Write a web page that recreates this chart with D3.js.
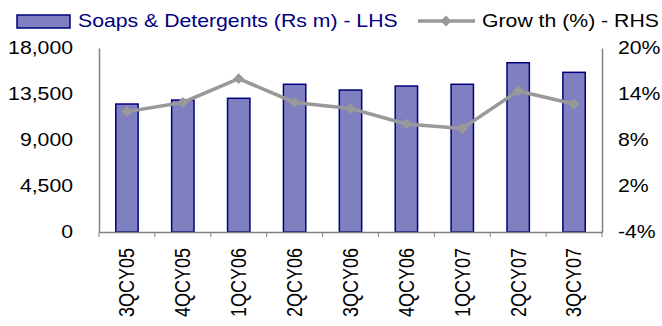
<!DOCTYPE html>
<html><head><meta charset="utf-8">
<script src="https://cdn.jsdelivr.net/npm/d3@7"></script>
<style>body{margin:0;background:#fff}svg{display:block}text{font-family:"Liberation Sans",Arial,sans-serif}</style>
</head><body><div id="chart"></div>
<script>
const categories = ["3QCY05","4QCY05","1QCY06","2QCY06","3QCY06","4QCY06","1QCY07","2QCY07","3QCY07"];
const sales = [12520, 12910, 13080, 14450, 13890, 14280, 14450, 16560, 15620];
const growth = [11.7, 12.9, 16.0, 12.9, 12.1, 10.1, 9.5, 14.4, 12.7];
const leftTicks = [0, 4500, 9000, 13500, 18000];
const rightTicks = [-4, 2, 8, 14, 20];
const barLabel = "Soaps & Detergents (Rs m) - LHS";
const lineLabel = "Grow th (%) - RHS";

const W = 662, H = 326;
const m = {left: 99, right: 60, top: 48, bottom: 94};
const SX = 1.18; // horizontal stretch of the text
const fs = "18px";
const svg = d3.select("#chart").append("svg").attr("width", W).attr("height", H);

const x = d3.scaleBand().domain(categories).range([m.left, W - m.right]).paddingInner(0.6).paddingOuter(0.3);
const yL = d3.scaleLinear().domain([0, 18000]).range([H - m.bottom, m.top]);
const yR = d3.scaleLinear().domain([-4, 20]).range([H - m.bottom, m.top]);

// bars
svg.append("g").selectAll("rect").data(sales).join("rect")
  .attr("x", (d, i) => x(categories[i]))
  .attr("y", d => yL(d))
  .attr("width", x.bandwidth())
  .attr("height", d => yL(0) - yL(d))
  .attr("fill", "#8080c0").attr("stroke", "#000080").attr("stroke-width", 1.5);

// axes
const gL = svg.append("g").attr("transform", `translate(${m.left},0)`)
  .call(d3.axisLeft(yL).tickValues(leftTicks).tickFormat(d3.format(",")).tickSize(0).tickSizeOuter(0));
const gR = svg.append("g").attr("transform", `translate(${W - m.right},0)`)
  .call(d3.axisRight(yR).tickValues(rightTicks).tickFormat(d => d + "%").tickSize(0).tickSizeOuter(0));
const xPos = d => x(d) + x.bandwidth() / 2;
const gX = svg.append("g").attr("transform", `translate(0,${H - m.bottom})`)
  .call(d3.axisBottom(x).tickSize(0).tickSizeOuter(0));
[gL, gR, gX].forEach(g => {
  g.select(".domain").attr("stroke", "#808080").attr("stroke-width", 1.5);
  g.selectAll("text").attr("fill", "#000").style("font-size", fs).style("font-family", '"Liberation Sans",Arial,sans-serif');
});
gL.selectAll("text").attr("x", -26 / SX).attr("transform", `scale(${SX},1)`);
gR.selectAll("text").attr("x", 16 / SX).attr("transform", `scale(${SX},1)`);
gX.selectAll("text").attr("text-anchor", "end")
  .attr("transform", `rotate(-90) scale(1,${SX})`)
  .attr("dy", "0.35em").attr("x", -16).attr("y", 0);
// bottom tick marks between categories
gX.selectAll("line.sep").data(d3.range(categories.length + 1)).join("line")
  .attr("x1", i => m.left + i * (W - m.left - m.right) / categories.length)
  .attr("x2", i => m.left + i * (W - m.left - m.right) / categories.length)
  .attr("y1", 0).attr("y2", 5).attr("stroke", "#808080").attr("stroke-width", 1);

// growth line
const line = d3.line().x((d, i) => xPos(categories[i])).y(d => yR(d));
svg.append("path").datum(growth).attr("d", line).attr("fill", "none")
  .attr("stroke", "#999999").attr("stroke-width", 3.5);
const diamond = d3.symbol().type(d3.symbolDiamond2).size(75);
svg.append("g").selectAll("path").data(growth).join("path")
  .attr("transform", (d, i) => `translate(${xPos(categories[i])},${yR(d)})`)
  .attr("d", diamond).attr("fill", "#999999");

// legend
const lg = svg.append("g");
lg.append("rect").attr("x", 17).attr("y", 15).attr("width", 53).attr("height", 13)
  .attr("fill", "#8080c0").attr("stroke", "#000080").attr("stroke-width", 1.5);
lg.append("text").attr("transform", `translate(78,21) scale(${SX},1)`).attr("dy", "0.35em").attr("fill", "#000080")
  .style("font-size", fs).text(barLabel);
lg.append("line").attr("x1", 418).attr("x2", 475).attr("y1", 21).attr("y2", 21)
  .attr("stroke", "#999999").attr("stroke-width", 3.5);
lg.append("path").attr("transform", "translate(446,21)").attr("d", diamond).attr("fill", "#999999");
lg.append("text").attr("transform", `translate(482,21) scale(${SX},1)`).attr("dy", "0.35em").attr("fill", "#000")
  .style("font-size", fs).text(lineLabel);
</script></body></html>
